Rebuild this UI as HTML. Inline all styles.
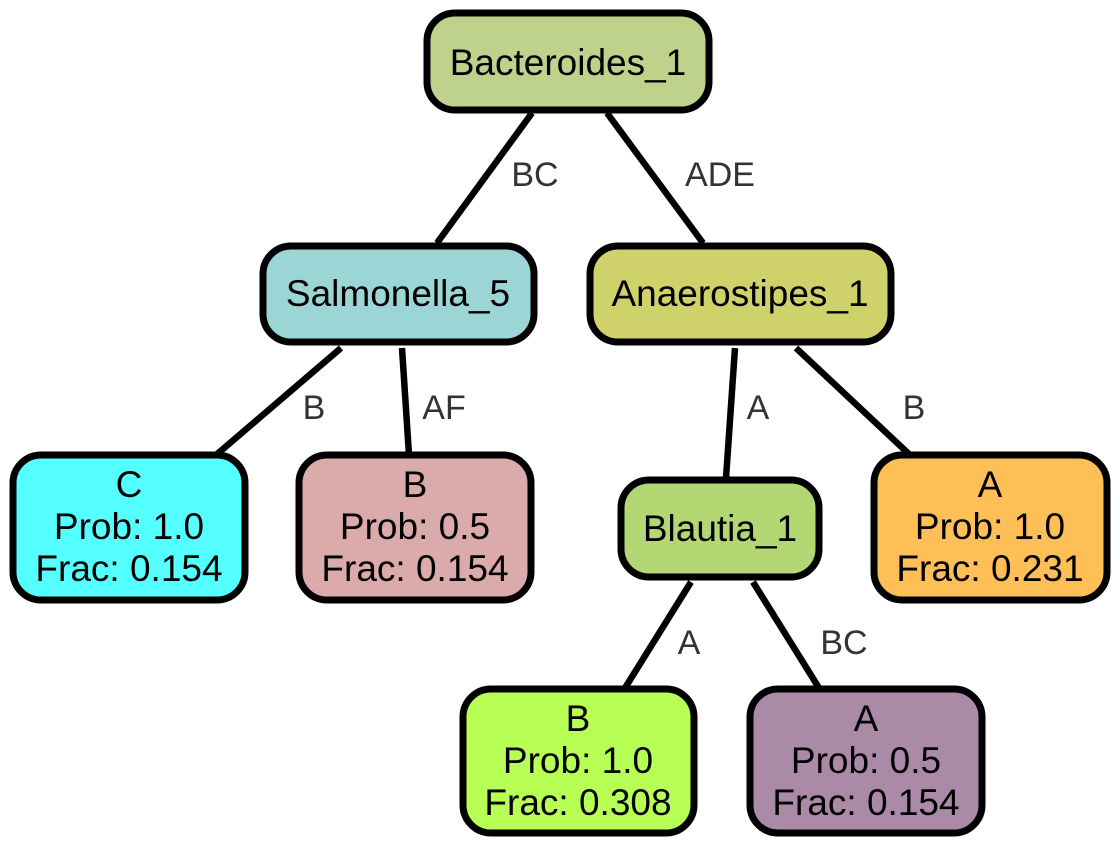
<!DOCTYPE html>
<html><head><meta charset="utf-8"><style>
html,body{margin:0;padding:0;background:#fff;}
svg{display:block;}
text{font-family:"Liberation Sans",Arial,sans-serif;}
</style></head><body>
<svg width="1119" height="846" viewBox="0 0 1119 846" xmlns="http://www.w3.org/2000/svg">
<g stroke="#000" stroke-width="6.5" fill="none">
<line x1="532" y1="113" x2="437" y2="243"/>
<line x1="607" y1="113" x2="703" y2="243"/>
<line x1="341" y1="348" x2="216" y2="455"/>
<line x1="402" y1="348" x2="409" y2="455"/>
<line x1="735" y1="348" x2="726" y2="478"/>
<line x1="796" y1="348" x2="910" y2="455"/>
<line x1="691" y1="582" x2="625" y2="688"/>
<line x1="753" y1="582" x2="819" y2="688"/>
</g>
<g font-size="34" fill="#333" text-anchor="middle">
<text x="535" y="186">BC</text>
<text x="720" y="186">ADE</text>
<text x="314" y="419">B</text>
<text x="444" y="419">AF</text>
<text x="758" y="419">A</text>
<text x="914" y="419">B</text>
<text x="689" y="654">A</text>
<text x="844" y="654">BC</text>
</g>
<g stroke="#000" stroke-width="7">
<rect x="427" y="13" width="282" height="97" rx="28" fill="#bed28c"/>
<rect x="263" y="246" width="271" height="96" rx="28" fill="#9bd5d5"/>
<rect x="590" y="246" width="301" height="96" rx="28" fill="#cfd16a"/>
<rect x="13" y="455" width="232" height="145" rx="28" fill="#55ffff"/>
<rect x="299" y="455" width="232" height="145" rx="28" fill="#dbaaaa"/>
<rect x="621" y="480" width="198" height="97" rx="28" fill="#b3d873"/>
<rect x="874" y="455" width="233" height="145" rx="28" fill="#ffbf57"/>
<rect x="463" y="689" width="231" height="144" rx="28" fill="#b8ff55"/>
<rect x="750" y="689" width="232" height="144" rx="28" fill="#ab8aa8"/>
</g>
<g font-size="37" fill="#000" text-anchor="middle">
<text x="568" y="75">Bacteroides_1</text>
<text x="398" y="306">Salmonella_5</text>
<text x="740" y="306">Anaerostipes_1</text>
<text x="720" y="541">Blautia_1</text>
<text x="129" y="497">C</text><text x="129" y="539">Prob: 1.0</text><text x="129" y="581">Frac: 0.154</text>
<text x="415" y="497">B</text><text x="415" y="539">Prob: 0.5</text><text x="415" y="581">Frac: 0.154</text>
<text x="990" y="497">A</text><text x="990" y="539">Prob: 1.0</text><text x="990" y="581">Frac: 0.231</text>
<text x="578" y="731">B</text><text x="578" y="773">Prob: 1.0</text><text x="578" y="815">Frac: 0.308</text>
<text x="866" y="731">A</text><text x="866" y="773">Prob: 0.5</text><text x="866" y="815">Frac: 0.154</text>
</g>
</svg>
</body></html>
